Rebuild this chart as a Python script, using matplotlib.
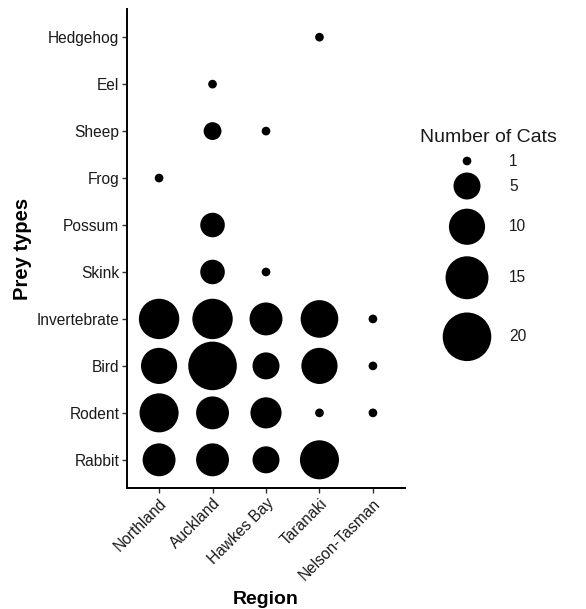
import numpy as np
import matplotlib.pyplot as plt

plt.rcParams['font.family'] = ['Liberation Sans', 'DejaVu Sans']

regions = ["Northland", "Auckland", "Hawkes Bay", "Taranaki", "Nelson-Tasman"]
prey = ["Rabbit", "Rodent", "Bird", "Invertebrate", "Skink",
        "Possum", "Frog", "Sheep", "Eel", "Hedgehog"]

# number of cats per (region, prey) pair
cat_region = ["Northland", "Auckland", "Hawkes Bay", "Taranaki",
              "Northland", "Auckland", "Hawkes Bay", "Taranaki", "Nelson-Tasman",
              "Northland", "Auckland", "Hawkes Bay", "Taranaki", "Nelson-Tasman",
              "Northland", "Auckland", "Hawkes Bay", "Taranaki", "Nelson-Tasman",
              "Auckland", "Hawkes Bay",
              "Auckland",
              "Northland",
              "Auckland", "Hawkes Bay",
              "Auckland",
              "Taranaki"]
cat_prey = ["Rabbit", "Rabbit", "Rabbit", "Rabbit",
            "Rodent", "Rodent", "Rodent", "Rodent", "Rodent",
            "Bird", "Bird", "Bird", "Bird", "Bird",
            "Invertebrate", "Invertebrate", "Invertebrate", "Invertebrate", "Invertebrate",
            "Skink", "Skink",
            "Possum",
            "Frog",
            "Sheep", "Sheep",
            "Eel",
            "Hedgehog"]
n_cats = [8, 8, 5, 12,
          12, 8, 7, 1, 1,
          10, 20, 5, 10, 1,
          13, 13, 8, 11, 1,
          4, 1,
          4,
          1,
          2, 1,
          1,
          1]

legend_breaks = [1, 5, 10, 15, 20]

W, H, DPI = 586, 609, 100


def diam_px(v):
    # area-style size scale: diameter grows with sqrt of the count
    v = np.asarray(v, dtype=float)
    return 8.7 + 9.15 * np.sqrt(v - 1)


def s_pts(v):
    return (diam_px(v) * 72 / DPI) ** 2


fig = plt.figure(figsize=(W / DPI, H / DPI), dpi=DPI)
ax = fig.add_axes([127 / W, 1 - 488 / H, (405 - 127) / W, (488 - 9) / H])

xs = [regions.index(r) for r in cat_region]
ys = [prey.index(p) for p in cat_prey]
ax.scatter(xs, ys, s=s_pts(n_cats), c="black", edgecolors="none")

ax.set_xlim(-0.6, len(regions) - 0.4)
ax.set_ylim(-0.6, len(prey) - 0.4)
ax.set_xticks(range(len(regions)))
ax.set_xticklabels(regions, rotation=45, ha="right", rotation_mode="anchor")
ax.set_yticks(range(len(prey)))
ax.set_yticklabels(prey)
ax.tick_params(labelsize=11.2, colors="#333333", labelcolor="#1a1a1a",
               length=3.5, width=1, pad=2)
for side in ["top", "right"]:
    ax.spines[side].set_visible(False)
for side in ["left", "bottom"]:
    ax.spines[side].set_linewidth(1.4)
    ax.spines[side].set_color("black")

ax.set_xlabel("Region", fontsize=14, fontweight="bold", labelpad=6)
ax.set_ylabel("Prey types", fontsize=14.5, fontweight="bold", labelpad=3)

# size legend drawn in pixel coordinates on an overlay axes
lax = fig.add_axes([0, 0, 1, 1])
lax.set_xlim(0, W)
lax.set_ylim(H, 0)
lax.axis("off")
lax.text(420, 138, "Number of Cats", fontsize=14, ha="left", va="center",
         color="#1a1a1a")
key_h = np.maximum(15.2, 1.29 * diam_px(legend_breaks))
centers = 161 + np.concatenate([[0], np.cumsum((key_h[:-1] + key_h[1:]) / 2)])
lax.scatter([467] * len(legend_breaks), centers, s=s_pts(legend_breaks),
            c="black", edgecolors="none")
for b, cy in zip(legend_breaks, centers):
    lax.text(509, cy, str(b), fontsize=11.2, ha="left", va="center",
             color="#1a1a1a")

fig.savefig("out.png", dpi=DPI)
